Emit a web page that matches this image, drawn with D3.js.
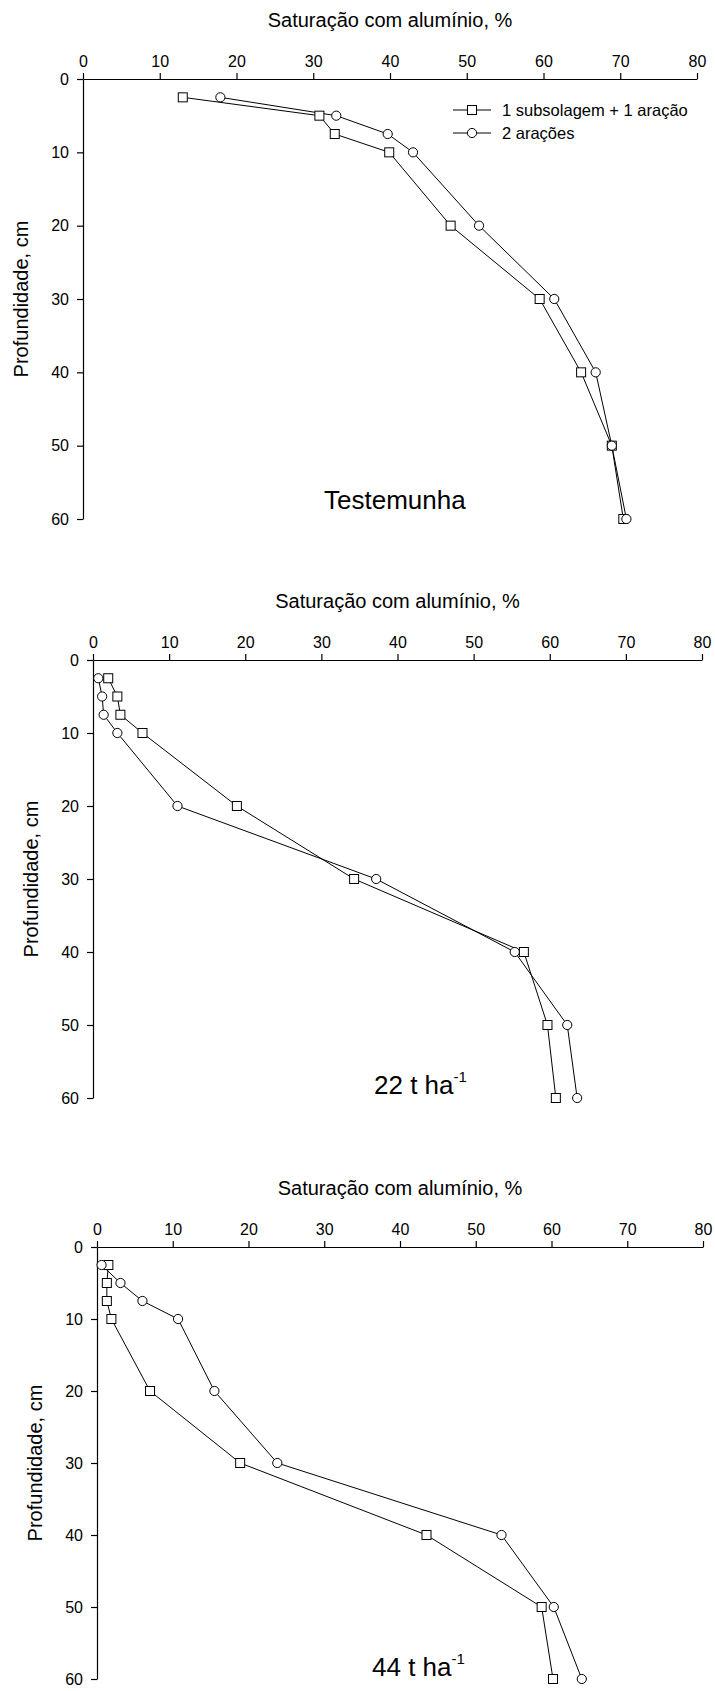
<!DOCTYPE html>
<html>
<head>
<meta charset="utf-8">
<script src="https://cdnjs.cloudflare.com/ajax/libs/d3/7.8.5/d3.min.js"></script>
<style>
  body { margin: 0; background: #fff; }
  text { font-family: "Liberation Sans", Arial, sans-serif; fill: #000; }
</style>
</head>
<body>
<div id="container"></div>
<script>
// depth of each sample, cm
var depths = [2.5, 5, 7.5, 10, 20, 30, 40, 50, 60];

// aluminium saturation, %  (square = 1 subsolagem + 1 aração, circle = 2 arações)
var testSub = [13.0, 30.8, 32.8, 39.9, 47.9, 59.5, 64.9, 68.9, 70.4];
var testAra = [17.9, 33.0, 39.7, 43.0, 51.6, 61.4, 66.8, 68.9, 70.8];
var t22Sub = [2.0, 3.2, 3.6, 6.5, 18.9, 34.3, 56.6, 59.7, 60.8];
var t22Ara = [0.7, 1.2, 1.4, 3.2, 11.1, 37.2, 55.4, 62.3, 63.6];
var t44Sub = [1.5, 1.3, 1.3, 1.9, 7.0, 18.9, 43.5, 58.7, 60.2];
var t44Ara = [0.6, 3.1, 6.0, 10.7, 15.5, 23.8, 53.4, 60.3, 64.0];

var xTicks = [0, 10, 20, 30, 40, 50, 60, 70, 80];
var yTicks = [0, 10, 20, 30, 40, 50, 60];

var seriesNames = ["1 subsolagem + 1 aração", "2 arações"];
var xTitle = "Saturação com alumínio, %";
var yTitle = "Profundidade, cm";

var panels = [
  { label: "Testemunha", sup: null, sub: testSub, ara: testAra,
    left: 83, right: 697, top: 79, bottom: 519, labelX: 324, labelDy: -10, legend: true },
  { label: "22 t ha", sup: "-1", sub: t22Sub, ara: t22Ara,
    left: 93, right: 702, top: 660, bottom: 1098, labelX: 374, labelDy: -4, legend: false },
  { label: "44 t ha", sup: "-1", sub: t44Sub, ara: t44Ara,
    left: 97, right: 703, top: 1247, bottom: 1679, labelX: 372, labelDy: -3, legend: false }
];

var svg = d3.select('#container').append('svg')
  .attr('width', 715).attr('height', 1691);

function square(g, cx, cy) {
  g.append('rect')
    .attr('x', cx - 4.5).attr('y', cy - 4.5)
    .attr('width', 9).attr('height', 9)
    .attr('fill', '#fff').attr('stroke', '#000').attr('stroke-width', 1);
}
function circle(g, cx, cy) {
  g.append('circle')
    .attr('cx', cx).attr('cy', cy).attr('r', 4.6)
    .attr('fill', '#fff').attr('stroke', '#000').attr('stroke-width', 1);
}

panels.forEach(function(p) {
  var x = d3.scaleLinear().domain([0, 80]).range([p.left, p.right]);
  var y = d3.scaleLinear().domain([0, 60]).range([p.top, p.bottom]);

  var g = svg.append('g');

  var xAxis = g.append('g')
    .attr('transform', 'translate(0,' + p.top + ')')
    .call(d3.axisTop(x).tickValues(xTicks).tickSize(6).tickSizeOuter(0).tickPadding(6));
  var yAxis = g.append('g')
    .attr('transform', 'translate(' + p.left + ',0)')
    .call(d3.axisLeft(y).tickValues(yTicks).tickSize(6).tickSizeOuter(0).tickPadding(8));

  [xAxis, yAxis].forEach(function(a) {
    a.selectAll('path, line').attr('stroke', '#000').attr('stroke-width', 1.2);
    a.selectAll('text').attr('font-size', 16).attr('font-family', '"Liberation Sans", Arial, sans-serif');
  });

  g.append('text')
    .attr('x', (p.left + p.right) / 2).attr('y', p.top - 52)
    .attr('text-anchor', 'middle').attr('font-size', 20)
    .text(xTitle);

  g.append('text')
    .attr('transform', 'translate(' + (p.left - 55) + ',' + ((p.top + p.bottom) / 2) + ') rotate(-90)')
    .attr('text-anchor', 'middle').attr('font-size', 20)
    .text(yTitle);

  var line = d3.line()
    .x(function(d) { return x(d[1]); })
    .y(function(d) { return y(d[0]); });

  var subPts = d3.zip(depths, p.sub);
  var araPts = d3.zip(depths, p.ara);

  g.append('path').attr('d', line(subPts)).attr('fill', 'none').attr('stroke', '#000').attr('stroke-width', 1);
  g.append('path').attr('d', line(araPts)).attr('fill', 'none').attr('stroke', '#000').attr('stroke-width', 1);

  subPts.forEach(function(d) { square(g, x(d[1]), y(d[0])); });
  araPts.forEach(function(d) { circle(g, x(d[1]), y(d[0])); });

  var lab = g.append('text')
    .attr('x', p.labelX).attr('y', p.bottom + p.labelDy)
    .attr('font-size', 26);
  lab.append('tspan').text(p.label);
  if (p.sup) {
    lab.append('tspan').attr('font-size', 15).attr('dy', -12).text(p.sup);
  }

  if (p.legend) {
    var lg = g.append('g');
    seriesNames.forEach(function(name, i) {
      var ly = p.top + 31 + i * 23;
      lg.append('line').attr('x1', 453).attr('x2', 491).attr('y1', ly).attr('y2', ly)
        .attr('stroke', '#000').attr('stroke-width', 1);
      if (i === 0) square(lg, 472, ly); else circle(lg, 472, ly);
      lg.append('text').attr('x', 502).attr('y', ly + 6).attr('font-size', 16.5).text(name);
    });
  }
});
</script>
</body>
</html>
